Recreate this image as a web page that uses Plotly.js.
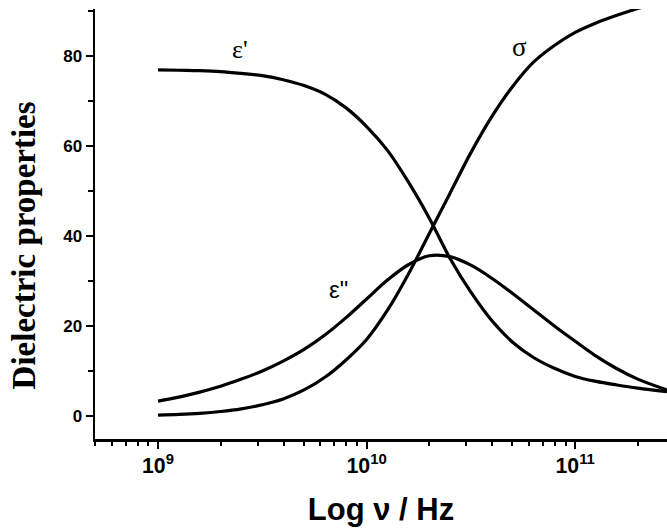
<!DOCTYPE html>
<html>
<head>
<meta charset="utf-8">
<script src="https://cdn.plot.ly/plotly-3.0.1.min.js"></script>
<style>html,body{margin:0;padding:0;background:#fff;}#chart{width:667px;height:530px;}</style>
</head>
<body>
<div id="chart"></div>
<script>
// Frequency (Hz)
const freqHz = [1.0e9, 1.259e9, 1.585e9, 1.995e9, 2.512e9, 3.162e9, 3.981e9, 5.012e9, 6.310e9, 7.943e9,
                1.0e10, 1.259e10, 1.585e10, 1.995e10, 2.512e10, 3.162e10, 3.981e10, 5.012e10, 6.310e10, 7.943e10,
                1.0e11, 1.259e11, 1.585e11, 1.995e11, 2.754e11];
// Real permittivity
const epsReal = [76.9, 76.8, 76.7, 76.5, 76.1, 75.6, 74.7, 73.4, 71.5, 68.5,
                 64.3, 59.0, 52.0, 44.0, 35.0, 27.5, 21.2, 16.4, 13.0, 10.6,
                 8.8, 7.7, 6.9, 6.2, 5.4];
// Imaginary permittivity (loss)
const epsImag = [3.3, 4.2, 5.3, 6.6, 8.2, 10.0, 12.2, 14.8, 18.0, 21.8,
                 26.0, 30.2, 33.6, 35.6, 35.4, 33.5, 30.6, 27.2, 23.6, 20.0,
                 16.6, 13.3, 10.5, 8.2, 5.8];
// Conductivity
const sigma = [0.2, 0.35, 0.6, 1.0, 1.6, 2.5, 3.8, 5.8, 8.6, 12.4,
               17.0, 23.5, 31.5, 40.5, 49.5, 58.5, 66.5, 73.2, 78.6, 82.3,
               85.2, 87.3, 89.0, 90.5, 92.3];

const labels = {epsReal: "ε'", epsImag: 'ε"', sigma: 'σ'};

const lineStyle = {color: '#000', width: 3.2, shape: 'spline', smoothing: 1};
const traces = [
  {x: freqHz, y: epsReal, mode: 'lines', line: lineStyle, name: labels.epsReal, hoverinfo: 'x+y'},
  {x: freqHz, y: epsImag, mode: 'lines', line: lineStyle, name: labels.epsImag, hoverinfo: 'x+y'},
  {x: freqHz, y: sigma, mode: 'lines', line: lineStyle, name: labels.sigma, hoverinfo: 'x+y'}
];

const tickFont = {family: 'Liberation Sans, Arial, sans-serif', size: 17, color: '#000', weight: 'bold'};

const layout = {
  width: 667, height: 530,
  margin: {l: 95, r: 0, t: 9, b: 91},
  paper_bgcolor: '#fff', plot_bgcolor: '#fff',
  showlegend: false,
  xaxis: {
    type: 'log', range: [8.698, 11.44],
    dtick: 1, exponentformat: 'power',
    showline: true, linewidth: 2.5, linecolor: '#000',
    ticks: 'outside', ticklen: 7, tickwidth: 2, tickcolor: '#000',
    minor: {ticks: 'outside', ticklen: 4, tickwidth: 2, tickcolor: '#000', dtick: 'D1', showgrid: false},
    showgrid: false, zeroline: false,
    tickfont: tickFont,
    title: {text: 'Log ν / Hz', font: {family: 'Liberation Sans, Arial, sans-serif', size: 31, color: '#000', weight: 'bold'}, standoff: 21}
  },
  yaxis: {
    range: [-5.1, 90.4],
    dtick: 20, tick0: 0,
    showline: true, linewidth: 2.5, linecolor: '#000',
    ticks: 'outside', ticklen: 7, tickwidth: 2, tickcolor: '#000',
    minor: {ticks: 'outside', ticklen: 5, tickwidth: 2, tickcolor: '#000', dtick: 10, showgrid: false},
    showgrid: false, zeroline: false,
    tickfont: tickFont
  },
  annotations: [
    {xref: 'paper', yref: 'paper', x: -0.125, y: 0.449, text: 'Dielectric properties', textangle: -90,
     showarrow: false, xanchor: 'center', yanchor: 'middle',
     font: {family: 'Liberation Serif, Times New Roman, serif', size: 33, color: '#000', weight: 'bold'}},
    {x: 9.393, y: 81.3, xref: 'x', yref: 'y', text: labels.epsReal, showarrow: false,
     font: {family: 'Liberation Serif, Times New Roman, serif', size: 26, color: '#000'}},
    {x: 10.731, y: 82, xref: 'x', yref: 'y', text: labels.sigma, showarrow: false,
     font: {family: 'Liberation Serif, Times New Roman, serif', size: 27, color: '#000'}},
    {x: 9.863, y: 28, xref: 'x', yref: 'y', text: labels.epsImag, showarrow: false,
     font: {family: 'Liberation Sans, Arial, sans-serif', size: 24, color: '#000'}}
  ]
};

Plotly.newPlot('chart', traces, layout, {displayModeBar: false, staticPlot: true});
</script>
</body>
</html>
